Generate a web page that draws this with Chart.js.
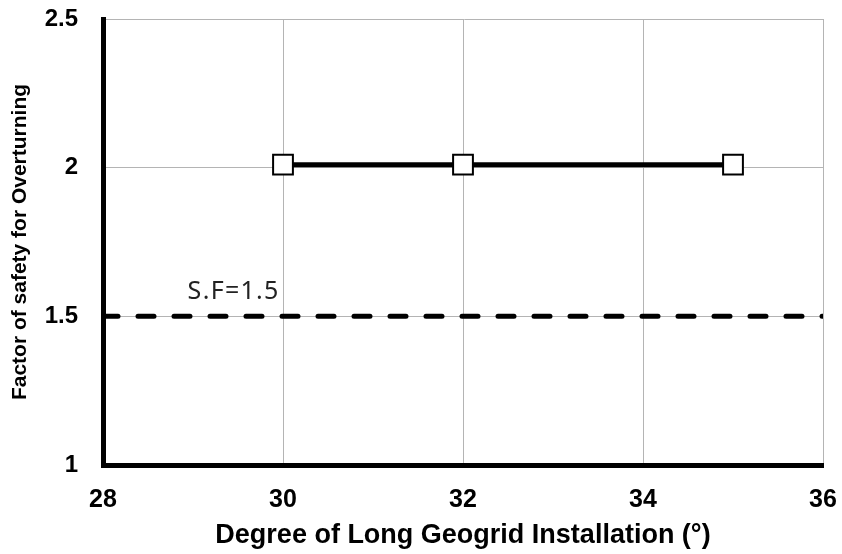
<!DOCTYPE html>
<html>
<head>
<meta charset="utf-8">
<script src="https://cdn.jsdelivr.net/npm/chart.js@4/dist/chart.umd.min.js"></script>
<style>
  html, body { margin: 0; padding: 0; background: #fff; }
  #wrap { width: 842px; height: 554px; }
</style>
</head>
<body>
<div id="wrap"><canvas id="fsChart"></canvas></div>
<script>
const angles    = [30, 32, 35];
const fsValues  = [2.01, 2.01, 2.01];
const sfLimit   = 1.5;
const sfRange   = [28, 36];
const xTicks    = [28, 30, 32, 34, 36];
const yTicks    = [1, 1.5, 2, 2.5];
const sfLabel   = 'S.F=1.5';

Chart.defaults.font.family = "'Liberation Sans', Arial, sans-serif";
Chart.defaults.color = '#000';

const GRID = '#b4b4b4';

// "S.F=1.5" text above the dashed line
const sfText = {
  id: 'sfText',
  afterDatasetsDraw(chart) {
    const {ctx, scales: {x, y}} = chart;
    ctx.save();
    ctx.font = "25px 'Noto Sans', sans-serif";
    ctx.letterSpacing = '1.3px';
    ctx.fillStyle = '#222';
    ctx.textBaseline = 'alphabetic';
    ctx.fillText(sfLabel, x.getPixelForValue(28.94), y.getPixelForValue(sfLimit) - 17);
    ctx.restore();
  }
};

new Chart(document.getElementById('fsChart'), {
  type: 'line',
  data: {
    datasets: [{
      label: 'FS',
      data: angles.map((a, i) => ({x: a, y: fsValues[i]})),
      borderColor: '#000', borderWidth: 5,
      pointStyle: 'rect', pointRadius: 14, pointHoverRadius: 14,
      pointBackgroundColor: '#fff', pointBorderColor: '#000', pointBorderWidth: 2
    }, {
      label: 'S.F',
      data: sfRange.map(v => ({x: v, y: sfLimit})),
      borderColor: '#000', borderWidth: 5, borderDash: [16, 20], borderDashOffset: 1,
      borderCapStyle: 'round',
      pointRadius: 0
    }]
  },
  options: {
    responsive: true, maintainAspectRatio: false, animation: false,
    layout: {padding: {top: 19, right: 19, left: 0, bottom: 0}},
    plugins: {legend: {display: false}, tooltip: {enabled: false}},
    scales: {
      x: {
        type: 'linear', min: 28, max: 36,
        afterBuildTicks: s => { s.ticks = xTicks.map(v => ({value: v})); },
        afterFit: s => { s.height = 89; s.paddingLeft = 0; s.paddingRight = 0; },
        grid: {color: GRID, lineWidth: 1, drawTicks: false},
        border: {color: '#000', width: 5},
        ticks: {font: {size: 25, weight: 'bold'}, padding: 20, color: '#000'},
        title: {display: true, text: 'Degree of Long Geogrid Installation (°)',
          font: {size: 27, weight: 'bold'}, color: '#000', padding: {top: 2, bottom: 2}}
      },
      y: {
        min: 1, max: 2.5,
        afterBuildTicks: s => { s.ticks = yTicks.map(v => ({value: v})); },
        afterFit: s => { s.width = 103; s.paddingTop = 0; s.paddingBottom = 0; },
        grid: {color: GRID, lineWidth: 1, drawTicks: false},
        border: {color: '#000', width: 5},
        ticks: {font: {size: 24, weight: 'bold'}, padding: 25, color: '#000',
          callback: v => String(v)},
        title: {display: true, text: 'Factor of safety for Overturning',
          font: {size: 21, weight: 'bold'},
          color: '#000', padding: {top: 8, bottom: 4}}
      }
    }
  },
  plugins: [sfText]
});
</script>
</body>
</html>
